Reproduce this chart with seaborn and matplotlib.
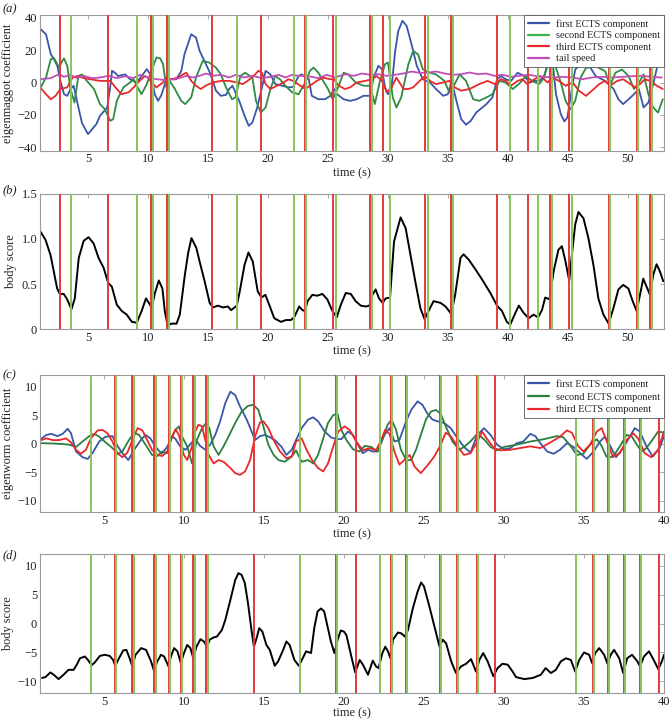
import matplotlib
matplotlib.use("Agg")
import matplotlib.pyplot as plt
import seaborn as sns

# ---------------- data ----------------
# panel (a): eigenmaggot coefficients
a_blue_t = [1.06, 1.5, 1.9, 2.16, 2.44, 2.7, 3.0, 3.27, 3.54, 3.8, 4.1, 4.5, 5.0, 5.7, 6.0, 6.6, 6.85, 7.0, 7.25, 7.5,
            8.1, 8.5, 9.05, 9.46, 9.9, 10.3, 10.56, 10.84, 11.1, 11.5, 11.8, 12.35, 12.77, 13.04, 13.6, 14.0, 14.3, 14.7,
            15.1, 15.4, 15.66, 16.07, 16.5, 16.76, 17.04, 17.6, 18.1, 18.4, 18.7, 19.1, 19.5, 19.8, 20.2, 20.6, 21.2,
            21.7, 22.1, 22.55, 22.8, 23.4, 23.65, 24.2, 24.75, 25.2, 25.5, 25.75, 26.3, 26.85, 27.4, 27.95, 28.5, 28.8,
            29.2, 29.5, 29.75, 30.0, 30.3, 30.6, 30.86, 31.2, 31.55, 31.96, 32.4, 32.9, 33.5, 34.0, 34.6, 35.0, 35.3,
            35.7, 36.1, 36.5, 36.9, 37.35, 38.2, 38.7, 39.1, 39.4, 39.8, 40.25, 40.8, 41.35, 41.8, 42.2, 42.6, 43.0,
            43.4, 43.7, 44.0, 44.4, 44.7, 44.95, 45.2, 45.6, 46.2, 46.8, 47.3, 48.1, 48.8, 49.2, 49.6, 50.05, 50.5,
            50.9, 51.3, 51.7, 52.1, 52.6, 53.0]
a_blue = [32.8, 29.7, 17.4, 14.4, 10.3, 1, -7.2, -8.2, -4.1, -2, -12, -25, -31.8, -25.6, -20.5, -15.4, -3, 7.2, 6, 4,
          5, 2, 0, 4, 8.2, 4, -7.2, -11.3, -8, 1, 2, 2, 7, 17.4, 29.7, 27.7, 19.5, 13.3,
          7, 1, -5, -8.2, -7.6, -4, -2, -11.3, -21.5, -26.7, -24.6, -15.4, -3, 7.2, 5, -1, -2,
          -3, -2.7, 4.1, 5, 2, -8.2, -10.3, -10.3, -8.2, -4, -7.2, -10.3, -11.3, -10.3, -8.2, -8.2, 3,
          10.3, 8.2, -3, -7.2, -3, 19.5, 31.8, 38, 34.9, 23.6, 10.3, 2, 0, -4, -8.2, -7.2, 1,
          -11.3, -22.6, -26, -23.6, -18.5, -13.3, -9.2, 2, 4, 2, 1, 6, 4, 0, 1, 1, 4,
          12.3, 14, -7.2, -19.5, -24, -21.5, -9.2, 8, 12, 10, 4, 1, -4, -10.3, -13.3, -10.3, -7.2,
          -4, -15.4, -12.3, -1, 15, 12]

a_green_t = [1.06, 1.5, 1.9, 2.16, 2.6, 2.85, 3.0, 3.27, 3.54, 3.87, 4.2, 4.5, 4.9, 5.5, 6.0, 6.4, 6.85, 7.1, 7.4,
             7.67, 7.95, 8.5, 8.8, 9.2, 9.46, 9.9, 10.3, 10.7, 11.0, 11.25, 11.53, 11.8, 12.2, 12.77, 13.1, 13.6,
             14.0, 14.56, 15.1, 15.66, 16.07, 16.5, 17.0, 17.3, 17.7, 18.1, 18.7, 19.0, 19.4, 19.8, 20.2, 20.6, 21.0,
             21.45, 22.0, 22.55, 23.1, 23.5, 23.8, 24.2, 24.6, 25.0, 25.4, 25.9, 26.3, 26.7, 27.3, 27.95, 28.5, 28.9,
             29.3, 29.75, 30.0, 30.4, 30.7, 31.1, 31.7, 32.1, 32.5, 32.9, 33.5, 34.0, 34.7, 35.1, 35.55, 35.97, 36.5,
             37.1, 37.6, 38.2, 38.7, 39.3, 39.8, 40.4, 40.9, 41.5, 42.0, 42.6, 43.0, 43.3, 43.7, 44.0, 44.4, 44.8,
             45.2, 45.6, 46.05, 46.5, 47.3, 48.1, 48.5, 48.95, 49.5, 50.05, 50.5, 51.0, 51.3, 51.7, 52.1, 52.5, 52.9]
a_green = [-3, 3, 14.4, 15, 9.2, 13.3, 14.8, 10.3, -4, -12.3, 4, 5, 1, -4, -13.3, -16.4, -23.6, -22.6, -11.3,
           -7.2, -3, 0, 2, -4, -7.2, -1, 7.2, 15.4, 15, 11.3, -3, 1, -3.5, -11.3, -13.3, -9.2,
           3, 13.3, 12.3, 9.2, 5, -3, -10.3, -9.2, 4, 6, 3, -11.3, -18.5, -15.4, -4, 4, 2,
           -2, -6, -7.2, 0, 7.2, 9.2, 6, 1, -4, -10.3, -2, 6, 5, 0, -2, -2, -13.3,
           0, 11.3, 12.3, -9.2, -15.4, -9.2, 11.3, 19.5, 17.4, 8.2, 6, 5, 1, -6, -1, 5, 1,
           -10.3, -11.3, -9.2, -7.2, 1, 0, -4, -1, 4, 1, -1, 3, 12, 14, 9, 0, -11.3,
           -16.4, -11.3, 3, 9, 10, 7, -2, 6, 8, 4, -4, 1, 5, -7.2, -15.4, -18.5, -10.3]

a_red_t = [1.06, 1.5, 1.9, 2.3, 2.7, 3.27, 3.7, 4.1, 4.5, 5.2, 6.0, 6.85, 7.4, 7.8, 8.4, 8.8, 9.3, 9.74, 10.0, 10.3,
           10.7, 11.25, 11.5, 11.9, 12.5, 12.9, 13.2, 13.6, 14.0, 14.4, 14.8, 15.4, 16.07, 16.76, 17.45, 17.9, 18.3,
           18.8, 19.2, 19.5, 19.8, 20.2, 20.75, 21.3, 21.7, 22.1, 22.5, 23.1, 23.5, 24.06, 24.6, 25.2, 25.5, 25.9,
           26.4, 26.85, 27.4, 28.1, 28.65, 29.06, 29.5, 29.9, 30.3, 30.7, 31.3, 31.7, 32.1, 32.5, 33.07, 33.5, 34.0,
           34.6, 35.1, 35.55, 36.1, 36.8, 37.6, 38.3, 38.9, 39.4, 39.8, 40.25, 40.8, 41.2, 41.6, 42.2, 42.7, 43.3,
           43.7, 44.25, 44.8, 45.4, 45.9, 46.5, 47.0, 47.6, 48.1, 48.5, 49.1, 49.6, 50.2, 50.6, 51.0, 51.4, 51.85,
           52.4, 52.9]
a_red = [-3.5, -7.2, -10.3, -8.2, -4, -3, 3, 4, 3, 2, 1, 1, -4, -7.2, -6, -3, 1, 4, 3, 0,
         -3, 0, 3, 2, 3, 5, 6, 1, -2, -4, -2, 0, 1, 1, 0, -1, 1,
         4, 7.2, 6, -1, -4, -2, 0, 2, 1, -1, -4, -2, 1, 3, 2, 2, -2,
         -4, -3, 0, 1, 2, 4, 1, -6, -3, 3, -4, -4, -3, 0, 4, 1, -1,
         0, 1, -3, -5, -4, -1, 1, -1, 2, 1, -2, 1, 2, -1, 2, 4, 0,
         3, 1, -2, 0, -5, -8.2, -5, -1, 1, -2, 1, 2, -1, -3, -1, 2, 1,
         -2, -4]

a_tail_t = [1.06, 1.89, 2.58, 2.99, 3.54, 4.09, 4.64, 5.33, 6.02, 6.71, 7.4, 8.09, 8.77, 9.33, 10.01, 10.7, 11.53,
            12.22, 12.77, 13.18, 13.73, 14.28, 14.83, 15.39, 16.07, 16.76, 17.31, 18.0, 18.69, 19.52, 20.2, 20.89,
            21.45, 22.0, 22.55, 23.1, 23.65, 24.2, 24.89, 25.58, 26.44, 27.13, 27.82, 28.51, 29.2, 29.89, 30.58,
            31.27, 31.96, 32.65, 33.34, 34.03, 34.72, 35.41, 36.1, 36.8, 37.49, 38.18, 38.87, 39.56, 40.25, 40.94,
            41.63, 42.32, 43.01, 43.7, 44.53, 45.36, 46.19, 47.02, 47.85, 48.67, 49.5, 50.33, 51.16, 51.99, 52.82]
a_tail = [2.05, 2.67, 5.13, 3.49, 4.72, 2.67, 4.1, 2.67, 3.08, 4.1, 2.67, 3.9, 2.67, 4.72, 3.08, 2.05, 1.44,
          2.05, 3.08, 4.1, 3.08, 4.1, 5.54, 4.1, 4.72, 3.08, 4.72, 3.08, 4.1, 2.67, 3.49, 4.72,
          3.08, 4.72, 4.1, 4.1, 3.49, 2.67, 4.72, 3.08, 5.13, 4.1, 5.54, 4.72, 5.13, 4.1, 4.72,
          5.54, 6.77, 5.95, 6.15, 6.77, 5.54, 4.72, 5.13, 6.15, 5.13, 5.54, 4.1, 4.72, 3.49, 4.1,
          4.72, 4.1, 3.49, 3.08, 3.49, 3.08, 2.05, 3.08, 3.49, 3.08, 3.49, 3.9, 4.1, 3.49, 3.08]

# panel (b): body score (maggot)
b_t = [1.05, 1.46, 1.88, 2.15, 2.43, 2.65, 2.98, 3.26, 3.62, 3.9, 4.23, 4.64, 5.05, 5.47, 5.88, 6.3, 6.69, 6.99,
       7.4, 7.82, 8.23, 8.65, 9.06, 9.47, 9.83, 10.17, 10.3, 10.58, 10.9, 11.2, 11.4, 11.63, 11.96, 12.38, 12.65,
       13.07, 13.34, 13.62, 14.03, 14.3, 14.72, 15.14, 15.41, 15.83, 16.24, 16.66, 16.93, 17.4, 17.62, 18.04,
       18.37, 18.73, 19.14, 19.45, 19.78, 20.1, 20.52, 21.08, 21.5, 21.9, 22.18, 22.6, 22.87, 23.07, 23.3, 23.7,
       24.1, 24.53, 24.94, 25.37, 25.73, 26.07, 26.48, 26.9, 27.3, 27.73, 28.14, 28.45, 28.7, 28.97, 29.25, 29.56,
       29.8, 30.17, 30.5, 31.05, 31.47, 31.88, 32.3, 32.7, 33.05, 33.3, 33.8, 34.38, 34.8, 35.26, 35.6, 36.04,
       36.3, 36.73, 37.3, 37.84, 38.53, 39.09, 39.5, 39.9, 40.19, 40.55, 40.9, 41.3, 41.72, 42.13, 42.5, 42.83,
       43.1, 43.46, 43.8, 44.2, 44.49, 44.76, 45.1, 45.32, 45.6, 45.87, 46.29, 46.7, 47.12, 47.53, 47.95, 48.39,
       48.78, 49.2, 49.6, 50.03, 50.39, 50.72, 51.0, 51.27, 51.55, 51.83, 52.1, 52.38, 52.66, 52.94]
b_score = [1.08, 0.99, 0.82, 0.64, 0.45, 0.39, 0.39, 0.33, 0.22, 0.34, 0.79, 0.98, 1.02, 0.95, 0.79, 0.68, 0.51, 0.47,
           0.27, 0.2, 0.16, 0.08, 0.07, 0.2, 0.34, 0.27, 0.23, 0.4, 0.54, 0.45, 0.2, 0.04, 0.06, 0.06, 0.16,
           0.6, 0.84, 1.01, 0.9, 0.75, 0.53, 0.29, 0.24, 0.26, 0.24, 0.25, 0.21, 0.26, 0.4, 0.71,
           0.85, 0.75, 0.42, 0.35, 0.38, 0.27, 0.12, 0.08, 0.1, 0.1, 0.13, 0.25, 0.21, 0.2, 0.31, 0.38,
           0.37, 0.39, 0.33, 0.2, 0.13, 0.27, 0.4, 0.39, 0.31, 0.26, 0.25, 0.26, 0.38, 0.44, 0.34, 0.29,
           0.34, 0.35, 0.97, 1.24, 1.12, 0.82, 0.51, 0.23, 0.11, 0.18, 0.31, 0.29, 0.25, 0.17, 0.38, 0.79,
           0.83, 0.77, 0.66, 0.55, 0.4, 0.26, 0.2, 0.08, 0.05, 0.16, 0.26, 0.18, 0.12, 0.16, 0.13, 0.21,
           0.35, 0.33, 0.64, 0.88, 0.92, 0.77, 0.54, 0.82, 1.16, 1.3, 1.23, 1.01, 0.71, 0.34, 0.16, 0.06,
           0.23, 0.44, 0.49, 0.45, 0.31, 0.2, 0.38, 0.56, 0.47, 0.38, 0.6, 0.72, 0.64, 0.53]

# panel (c): eigenworm coefficients
c_blue_t = [1.07, 1.39, 1.7, 2.1, 2.42, 2.73, 2.94, 3.25, 3.66, 3.98, 4.3, 4.7, 5.1, 5.53, 5.84, 6.15, 6.52, 6.88,
            7.3, 7.6, 7.9, 8.2, 8.6, 8.95, 9.26, 9.47, 9.78, 10.1, 10.4, 10.7, 11.0, 11.33, 11.64, 11.95, 12.26,
            12.58, 12.9, 13.2, 13.5, 13.92, 14.23, 14.44, 14.75, 15.06, 15.37, 15.68, 16.1, 16.4, 16.73, 17.0,
            17.35, 17.76, 18.07, 18.38, 18.8, 19.2, 19.52, 19.83, 20.25, 20.56, 20.87, 21.18, 21.5, 21.8, 22.1,
            22.53, 22.84, 23.15, 23.46, 23.88, 24.2, 24.6, 24.9, 25.2, 25.53, 25.84, 26.26, 26.67, 27.1, 27.5, 27.9,
            28.33, 28.75, 29.16, 29.57, 30.0, 30.4, 30.8, 31.2, 31.65, 31.96, 32.27, 32.7, 33.1, 33.5, 33.93, 34.34,
            34.76, 35.17, 35.6, 36.0, 36.3, 36.6, 37.0, 37.45, 37.86, 38.17, 38.49, 38.9, 39.3, 39.73, 40.0]
c_blue = [0.8, 1.5, 1.7, 1.3, 1.7, 2.6, 1.8, -1.4, -2.4, -2.7, -1.6, 0.35, 1.2, 1.3, -0.4, -1.7, -2.9, -1.1,
          0.6, 1.5, 0.9, -0.5, -1.8, -0.6, 1.3, 0.8, -0.6, -1.1, -0.1, 0.8, -0.4, -1.1, -0.2, 1.5, 3.9,
          7.1, 9.1, 8.5, 6.5, 4.2, 2.1, 0.6, 1.3, 1.5, 1.1, 0.6, -0.6, -2.0, -1.1, 0.6,
          2.7, 4.2, 4.6, 3.9, 2.1, 1.05, 0.8, 0.76, 2.1, 1.5, -0.2, -1.7, -1.1, -1.4, -1.4,
          1.5, 2.7, 0.35, 0.6, 3.9, 5.9, 7.4, 6.8, 5.3, 4.2, 3.9, 3.6, 2.7, 0.9, -0.6, -1.6,
          1.5, 2.7, 1.5, -0.2, -1.0, -0.8, 0.06, 0.35, 1.7, 1.3, 0.06, -1.4, -1.8, -1.1, 0.06, -0.6,
          -1.7, -2.7, -1.4, 0.35, 1.2, -0.2, -2.4, -0.8, 1.2, 2.7, 2.1, -0.5, -2.3, -0.8, 1.3]

c_green_t = [1.07, 1.8, 2.42, 2.83, 3.25, 3.66, 4.08, 4.4, 4.7, 5.1, 5.53, 5.84, 6.15, 6.56, 6.88, 7.19, 7.6, 8.0,
             8.33, 8.64, 8.95, 9.16, 9.47, 9.68, 9.88, 10.2, 10.5, 10.8, 11.13, 11.38, 11.58, 11.85, 12.16, 12.47,
             12.78, 13.2, 13.6, 14.0, 14.33, 14.65, 14.96, 15.27, 15.6, 15.9, 16.3, 16.73, 17.0, 17.35, 17.76, 18.07,
             18.38, 18.7, 19.0, 19.33, 19.6, 19.83, 20.15, 20.56, 20.97, 21.3, 21.7, 22.1, 22.4, 22.73, 22.98, 23.25,
             23.56, 23.88, 24.2, 24.5, 24.8, 25.12, 25.43, 25.74, 26.05, 26.36, 26.78, 27.2, 27.5, 27.9, 28.33,
             28.75, 29.16, 29.57, 30.0, 30.8, 31.65, 32.5, 33.3, 33.7, 34.1, 34.55, 34.96, 35.38, 35.8, 36.1, 36.4,
             36.8, 37.24, 37.66, 37.97, 38.3, 38.6, 38.9, 39.2, 39.63, 40.0]
c_green = [0.06, 0, -0.1, -0.2, -0.6, 0.35, 1.3, 1.7, 1.2, 0.2, -0.8, -1.8, -1.4, 0.6, 1.9, 1.5, -0.2, -2.0,
           -2.2, -1.4, -1.7, 0.6, 2.4, 3.0, 1.2, -0.5, -3.5, 0.6, 2.7, 3.6, 2.7, -0.5, -2.0, -0.5,
           1.2, 3.6, 5.6, 6.6, 6.8, 5.9, 3.0, -0.2, -2.0, -2.9, -3.2, -2.3, -1.2, -3.2, -2.9, -3.5,
           -2.0, 0.9, 3.6, 5.0, 5.2, 2.4, 0.6, -1.0, -1.4, -0.4, -0.6, -1.4, 0.9, 3.3, 4.2, 2.4,
           -1.1, -2.9, -2.9, -1.1, 1.5, 4.2, 5.6, 5.9, 5.2, 3.0, 0.35, -1.1, -0.6, 0.35, 1.7,
           0.76, -0.6, -1.2, -0.6, -0.2, 0.35, 0.76, 1.3, 1.1, -0.2, -2.0, -1.8, -0.2, 0.76, -0.4, -2.3,
           -2.4, -0.5, 1.5, 1.3, -0.2, -1.4, -0.8, 0.35, 2.1, 1.9]

c_red_t = [1.07, 1.39, 1.8, 2.2, 2.63, 2.94, 3.25, 3.56, 3.87, 4.18, 4.6, 4.9, 5.22, 5.53, 5.84, 6.15, 6.46, 6.77,
           7.1, 7.4, 7.7, 8.0, 8.33, 8.64, 8.95, 9.26, 9.47, 9.68, 9.99, 10.2, 10.5, 10.7, 10.9, 11.13, 11.33,
           11.54, 11.85, 12.16, 12.47, 12.9, 13.2, 13.5, 13.82, 14.13, 14.44, 14.75, 14.96, 15.27, 15.6, 16.0,
           16.4, 16.73, 17.0, 17.35, 17.66, 18.0, 18.38, 18.7, 19.0, 19.33, 19.64, 20.04, 20.35, 20.77, 21.18,
           21.6, 22.0, 22.32, 22.57, 22.84, 23.15, 23.46, 23.77, 24.1, 24.4, 24.8, 25.2, 25.64, 26.05, 26.36,
           26.67, 27.1, 27.5, 27.9, 28.33, 28.64, 28.95, 29.37, 29.78, 30.4, 31.0, 31.65, 32.27, 32.9, 33.5,
           33.93, 34.24, 34.65, 34.96, 35.38, 35.8, 36.1, 36.4, 36.8, 37.24, 37.66, 38.07, 38.38, 38.8, 39.2,
           39.63, 40.0]
c_red = [0.6, 0.9, 0.6, 0.6, 0.9, 0.2, -1.1, -1.8, -1.1, 0.9, 2.3, 2.4, 1.8, 0.35, -1.7, -2.4, -1.6, 0.6,
         2.7, 2.3, 0.6, -1.1, -2.0, -2.2, -1.4, 1.2, 2.5, 1.5, -2.0, -2.9, -0.5, 2.1, 3.3, 3.0, 0.6,
         -2.0, -3.5, -2.9, -3.2, -4.3, -5.2, -5.5, -4.9, -2.9, 1.2, 3.7, 3.9, 2.7, 0.6, -1.4,
         -2.6, -2.3, 0.35, 0.9, -1.1, -2.9, -4.3, -4.9, -3.5, -0.5, 2.1, 3.0, 2.4, 0.35, -1.2,
         -0.8, -1.2, 0.6, 2.4, 1.7, -1.4, -3.7, -2.9, -2.0, -4.0, -5.2, -3.9, -2.3, -0.2, 1.9,
         1.3, -0.5, -2.0, -1.7, 0.35, 2.1, 0.76, -0.8, -1.2, -1.1, -0.8, -0.5, -0.8, 0.2, 1.2,
         2.3, 1.9, -0.5, -1.4, -0.2, 2.1, 2.7, 0.6, -2.3, -1.7, 0.6, 1.8, 0.9, -1.7, -2.4,
         -1.1, 2.1]

# panel (d): body score (worm)
d_t = [1.13, 1.34, 1.65, 1.86, 2.16, 2.47, 2.78, 3.1, 3.3, 3.5, 3.8, 4.0, 4.23, 4.43, 4.74, 5.05, 5.36, 5.57, 5.7,
       5.88, 6.2, 6.4, 6.6, 6.77, 6.97, 7.32, 7.63, 7.94, 8.14, 8.3, 8.56, 8.76, 9.03, 9.18, 9.38, 9.59, 9.8, 10.0,
       10.2, 10.4, 10.58, 10.78, 11.03, 11.24, 11.44, 11.6, 11.86, 12.06, 12.37, 12.58, 12.9, 13.2, 13.4, 13.6,
       13.8, 14.0, 14.23, 14.37, 14.54, 14.7, 14.9, 15.15, 15.36, 15.67, 15.88, 16.2, 16.4, 16.6, 16.9, 17.18,
       17.42, 17.63, 17.94, 18.14, 18.35, 18.56, 18.76, 18.97, 19.18, 19.4, 19.6, 19.8, 20.0, 20.15, 20.46, 20.7,
       20.98, 21.18, 21.5, 21.8, 22.0, 22.16, 22.4, 22.58, 22.75, 22.9, 23.06, 23.37, 23.58, 23.8, 24.0, 24.3,
       24.6, 24.82, 25.0, 25.34, 25.65, 25.97, 26.17, 26.38, 26.7, 27.0, 27.32, 27.63, 27.94, 28.25, 28.46, 28.7,
       28.98, 29.33, 29.6, 29.9, 30.23, 30.54, 30.75, 31.27, 31.8, 32.3, 32.6, 32.93, 33.24, 33.55, 33.87, 34.18,
       34.45, 34.7, 35.0, 35.32, 35.5, 35.7, 35.95, 36.26, 36.47, 36.67, 36.88, 37.2, 37.45, 37.7, 38.0, 38.34,
       38.5, 38.75, 39.06, 39.3, 39.65, 39.9, 40.0]
d_score = [-9.4, -9.25, -8.45, -8.85, -9.6, -8.85, -8.0, -8.0, -7.1, -6.0, -5.7, -6.3, -7.2, -6.7, -5.6, -5.4, -5.6,
           -6.3, -7.3, -6.3, -4.65, -4.55, -6.0, -7.4, -5.4, -4.25, -4.55, -6.55, -8.3, -6.7, -5.4, -5.7, -7.4,
           -5.7, -4.25, -4.8, -6.8, -5.1, -3.7, -4.25, -6.0, -4.0, -2.7, -3.1, -4.0, -2.8, -2.4, -2.25, -1.1, 0.6,
           4.1, 7.5, 8.7, 8.4, 7.0, 3.5, -1.4, -4.0, -2.5, -0.8, -1.4, -3.7, -4.55, -7.3, -6.55, -4.55, -3.1,
           -3.7, -6.3, -7.3, -6.0, -4.8, -5.1, -0.8, 2.1, 2.6, 2.1, -0.5, -3.1, -5.1, -2.8, -1.2, -1.4, -2.0,
           -5.7, -8.45, -6.3, -7.1, -8.85, -6.4, -7.4, -7.7, -5.1, -4.0, -4.8, -6.0, -2.8, -1.55, -1.7, -2.25,
           -1.1, 2.6, 5.5, 7.1, 6.4, 2.9, -0.5, -4.0, -2.8, -3.4, -6.55, -8.55, -7.4, -6.95, -6.15, -8.3, -6.3,
           -5.1, -6.55, -9.1, -7.7, -6.95, -7.1, -8.3, -9.25, -9.6, -9.4, -8.85, -7.7, -8.55, -8.0, -6.55, -6.0,
           -6.3, -8.3, -6.3, -5.0, -5.4, -6.8, -5.1, -4.25, -5.4, -6.95, -5.4, -4.55, -6.0, -8.55, -6.0, -5.4,
           -6.55, -7.4, -5.7, -4.8, -6.0, -7.9, -6.3, -5.4]

# event times (vertical markers)
ab_red_events = [2.66, 6.7, 10.29, 11.6, 15.36, 19.43, 23.05, 25.4, 28.47, 29.58, 33.1, 35.27, 39.08, 41.7, 43.46,
                 45.12, 48.42, 50.72, 51.8]
ab_green_events = [3.62, 9.07, 10.42, 11.74, 17.4, 22.16, 23.17, 25.68, 28.7, 30.19, 33.32, 35.43, 40.16, 42.5,
                   43.64, 45.3, 48.5, 50.85, 52.0]
cd_red_events = [5.67, 6.77, 8.14, 9.05, 9.82, 10.58, 11.39, 14.38, 19.48, 20.76, 22.94, 23.87, 26.01, 27.05, 28.29,
                 29.41, 35.55, 36.48, 37.47, 38.49, 39.69]
cd_green_events = [4.18, 5.76, 6.85, 8.22, 9.15, 9.9, 10.71, 11.48, 17.28, 19.58, 22.26, 23.02, 23.96, 26.09, 27.13,
                   28.37, 34.51, 35.63, 36.56, 37.56, 38.59]

# ---------------- styling ----------------
sns.set_theme(style="white")
plt.rcParams["font.family"] = ["Liberation Serif", "DejaVu Serif"]
plt.rcParams["lines.solid_joinstyle"] = "round"

BLUE = "#3a56a8"
GREEN_A = "#2f8a45"
GREEN_C = "#2a7f3e"
RED = "#e8282a"
MAGENTA = "#c04fb8"
EV_RED = "#e23a3c"
EV_GREEN = "#86c65a"
SPINE = "#9a9a9a"
TXT = "#222222"

fig = plt.figure(figsize=(6.71, 7.2), dpi=100)
left, width = 40 / 671, 624 / 671
ax_a = fig.add_axes([left, 0.7907, width, 0.1883])
ax_b = fig.add_axes([left, 0.543, width, 0.1876])
ax_c = fig.add_axes([left, 0.289, width, 0.190])
ax_d = fig.add_axes([left, 0.0375, width, 0.193])


def style_axes(ax, xlim, ylim, xticks, yticks, ylabel, xpad=1):
    ax.set_xlim(*xlim)
    ax.set_ylim(*ylim)
    ax.set_xticks(xticks)
    ax.set_yticks(yticks)
    for s in ax.spines.values():
        s.set_visible(True)
        s.set_color(SPINE)
        s.set_linewidth(0.8)
    ax.tick_params(direction="in", top=True, right=True, length=3, width=0.6,
                   color=SPINE, labelsize=9, pad=2, labelcolor=TXT)
    ax.set_xlabel("time (s)", fontsize=8.8, labelpad=xpad, color=TXT)
    ax.set_ylabel(ylabel, fontsize=8.8, labelpad=3, color=TXT)


def draw_events(ax, reds, greens):
    for x in reds:
        ax.axvline(x, color=EV_RED, lw=1.4, zorder=3)
    for x in greens:
        ax.axvline(x, color=EV_GREEN, lw=1.4, zorder=3)


def add_legend(ax, spacing):
    leg = ax.legend(loc="upper right", fontsize=7.4, frameon=True, fancybox=False,
                    borderpad=0.4, labelspacing=spacing, handlelength=2.0, handletextpad=0.7,
                    borderaxespad=0.0)
    leg.get_frame().set_edgecolor("#555555")
    leg.get_frame().set_linewidth(0.6)
    leg.get_frame().set_alpha(1)
    leg.set_zorder(10)
    for ln in leg.get_lines():
        ln.set_linewidth(1.6)
    return leg


# (a)
sns.lineplot(x=a_blue_t, y=a_blue, ax=ax_a, color=BLUE, lw=1.3, sort=False, estimator=None,
             label="first ECTS component", zorder=2)
sns.lineplot(x=a_green_t, y=a_green, ax=ax_a, color=GREEN_A, lw=1.3, sort=False, estimator=None,
             label="second ECTS component", zorder=2)
sns.lineplot(x=a_red_t, y=a_red, ax=ax_a, color=RED, lw=1.3, sort=False, estimator=None,
             label="third ECTS component", zorder=2)
sns.lineplot(x=a_tail_t, y=a_tail, ax=ax_a, color=MAGENTA, lw=1.3, sort=False, estimator=None,
             label="tail speed", zorder=2)
draw_events(ax_a, ab_red_events, ab_green_events)
style_axes(ax_a, (1, 53), (-42, 41.5), range(5, 55, 5), [-40, -20, 0, 20, 40], "eigenmaggot coefficient")
leg_a = add_legend(ax_a, 0.22)
leg_a.get_lines()[1].set_color("#3fb24a")

# (b)
sns.lineplot(x=b_t, y=b_score, ax=ax_b, color="black", lw=1.4, sort=False, estimator=None, legend=False, zorder=2)
draw_events(ax_b, ab_red_events, ab_green_events)
style_axes(ax_b, (1, 53), (0, 1.5), range(5, 55, 5), [0, 0.5, 1.0, 1.5], "body score")
ax_b.set_yticklabels(["0", "0.5", "1.0", "1.5"])

# (c)
sns.lineplot(x=c_blue_t, y=c_blue, ax=ax_c, color=BLUE, lw=1.3, sort=False, estimator=None,
             label="first ECTS component", zorder=2)
sns.lineplot(x=c_green_t, y=c_green, ax=ax_c, color=GREEN_C, lw=1.3, sort=False, estimator=None,
             label="second ECTS component", zorder=2)
sns.lineplot(x=c_red_t, y=c_red, ax=ax_c, color=RED, lw=1.3, sort=False, estimator=None,
             label="third ECTS component", zorder=2)
draw_events(ax_c, cd_red_events, cd_green_events)
style_axes(ax_c, (1, 40), (-12, 12), range(5, 45, 5), [-10, -5, 0, 5, 10], "eigenworm coefficient")
add_legend(ax_c, 0.34)

# (d)
sns.lineplot(x=d_t, y=d_score, ax=ax_d, color="black", lw=1.4, sort=False, estimator=None, legend=False, zorder=2)
draw_events(ax_d, cd_red_events, cd_green_events)
style_axes(ax_d, (1, 40), (-12, 12), range(5, 45, 5), [-10, -5, 0, 5, 10], "body score", xpad=0)

# panel letters
for lbl, y in [("(a)", 0.995), ("(b)", 0.744), ("(c)", 0.487), ("(d)", 0.237)]:
    fig.text(0.004, y, lbl, fontsize=9, style="italic", va="top", ha="left", color=TXT)

fig.savefig("out.png", dpi=100)
